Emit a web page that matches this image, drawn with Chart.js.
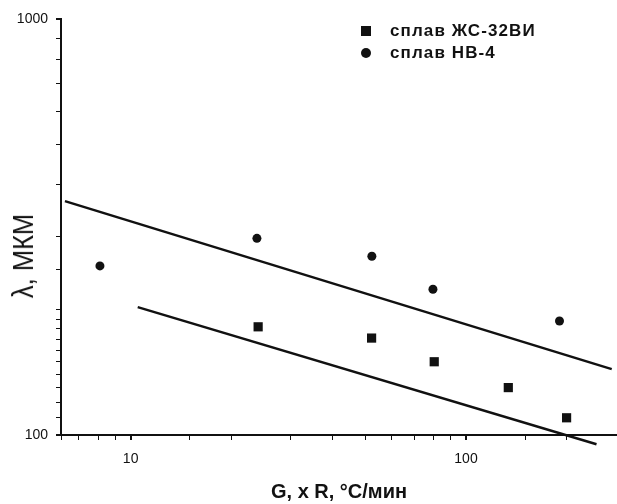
<!DOCTYPE html>
<html>
<head>
<meta charset="utf-8">
<script src="https://cdn.jsdelivr.net/npm/chart.js@4.4.1/dist/chart.umd.min.js"></script>
<style>
  html, body { margin: 0; padding: 0; background: #fff; overflow: hidden; }
  #wrap { position: relative; width: 617px; height: 504px; overflow: hidden; }
  #chart { display: block; }
  #legend {
    position: absolute; left: 361px; top: 20px;
    font: bold 17px 'Liberation Sans', Arial, sans-serif;
    letter-spacing: 1.1px; color: #111;
  }
  #legend div { height: 22px; line-height: 22px; white-space: nowrap; }
  .mk { display: inline-block; width: 10px; height: 10px; background: #111; margin-right: 19px; vertical-align: 0px; }
  .mk.c { border-radius: 50%; }
  #ytitle {
    position: absolute; left: 23px; top: 256px;
    transform: translate(-50%, -50%) rotate(-90deg) scale(0.85, 1);
    font: 30px 'Liberation Sans', Arial, sans-serif; color: #111; white-space: nowrap;
  }
</style>
</head>
<body>
<div id="wrap">
  <canvas id="chart" width="617" height="504"></canvas>
  <div id="legend">
    <div><span class="mk"></span>сплав ЖС-32ВИ</div>
    <div><span class="mk c"></span>сплав НВ-4</div>
  </div>
  <div id="ytitle">λ, МКМ</div>
</div>
<script>
// measured points, log-log axes
var zhsX = [24.0, 52.3, 80.4, 133.7, 199.5];
var zhsY = [182, 171, 150, 130, 110];
var nvX = [8.1, 23.8, 52.4, 79.7, 190];
var nvY = [255, 297, 269, 224, 188];

// fitted lines (end points)
var upperX = [6.37, 272];
var upperY = [365, 144];
var lowerX = [10.5, 245];
var lowerY = [203, 95];

var X_TITLE = "G, x R, °C/мин";

function pts(xs, ys) {
  return xs.map(function (x, i) { return { x: x, y: ys[i] }; });
}

function decadeOnly(v) {
  var l = Math.log10(v);
  return Math.abs(l - Math.round(l)) < 1e-9 ? String(v) : "";
}

var INK = "#111";
var FONT = "'Liberation Sans', Arial, sans-serif";

new Chart(document.getElementById("chart"), {
  type: "scatter",
  data: {
    datasets: [
      {
        label: "сплав ЖС-32ВИ",
        data: pts(zhsX, zhsY),
        pointStyle: "rect",
        pointRadius: 6.5,
        backgroundColor: INK,
        borderWidth: 0
      },
      {
        label: "сплав НВ-4",
        data: pts(nvX, nvY),
        pointStyle: "circle",
        pointRadius: 4.5,
        backgroundColor: INK,
        borderWidth: 0
      },
      {
        data: pts(upperX, upperY),
        showLine: true,
        pointRadius: 0,
        borderColor: INK,
        borderWidth: 2.5,
        clip: false
      },
      {
        data: pts(lowerX, lowerY),
        showLine: true,
        pointRadius: 0,
        borderColor: INK,
        borderWidth: 2.5,
        clip: false
      }
    ]
  },
  options: {
    responsive: false,
    animation: false,
    // no auto padding: the plot box must reach the right edge like the scan
    layout: { autoPadding: false, padding: { top: 19, left: 0, right: 0, bottom: 0 } },
    plugins: {
      legend: { display: false },
      tooltip: { enabled: false }
    },
    scales: {
      x: {
        type: "logarithmic",
        position: "bottom",
        min: 6.2,
        max: 282,
        border: { display: true, color: INK, width: 2 },
        grid: {
          drawOnChartArea: false,
          drawTicks: true,
          tickLength: 5,
          color: INK,
          lineWidth: function (c) { return c.tick && c.tick.major ? 2 : 1; }
        },
        ticks: {
          autoSkip: false,
          maxRotation: 0,
          padding: 11,
          color: INK,
          font: { family: FONT, size: 14 },
          callback: decadeOnly
        },
        title: {
          display: true,
          text: X_TITLE,
          color: INK,
          font: { family: FONT, size: 20, weight: "bold" },
          padding: { top: 0, bottom: 0 }
        },
        afterFit: function (s) {
          s.height = 69;
          s.paddingLeft = 0;
          s.paddingRight = 0;
        }
      },
      y: {
        type: "logarithmic",
        position: "left",
        min: 100,
        max: 1000,
        border: { display: true, color: INK, width: 2 },
        grid: {
          drawOnChartArea: false,
          drawTicks: true,
          tickLength: 5,
          color: INK,
          lineWidth: function (c) { return c.tick && c.tick.major ? 2 : 1; }
        },
        ticks: {
          autoSkip: false,
          padding: 8,
          color: INK,
          font: { family: FONT, size: 14 },
          callback: decadeOnly
        },
        afterFit: function (s) {
          s.width = 61;
          s.paddingTop = 0;
          s.paddingBottom = 0;
        }
      }
    }
  }
});
</script>
</body>
</html>
